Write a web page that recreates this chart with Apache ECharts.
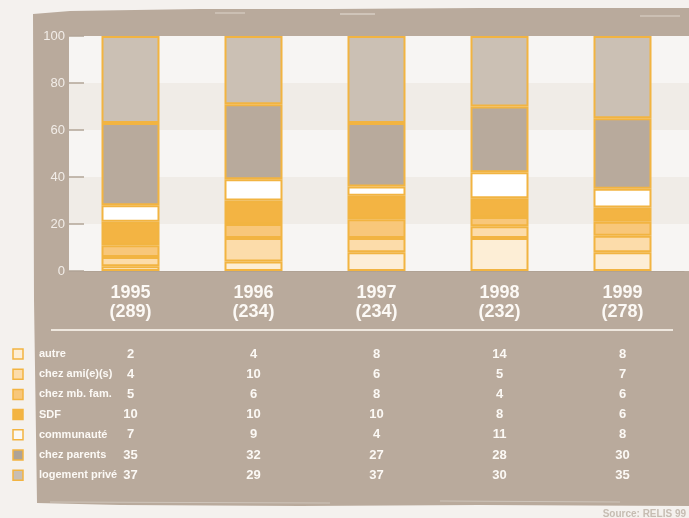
<!DOCTYPE html>
<html>
<head>
<meta charset="utf-8">
<script src="https://cdn.jsdelivr.net/npm/echarts@6/dist/echarts.min.js"></script>
<style>
  html, body { margin: 0; padding: 0; background: #f4f1ee; }
  #chart { width: 689px; height: 518px; }
</style>
</head>
<body>
<div id="chart"></div>
<script>
// donnees
var years = ['1995', '1996', '1997', '1998', '1999'];
var totals = [289, 234, 234, 232, 278];
var names = ['autre', 'chez ami(e)(s)', 'chez mb. fam.', 'SDF', 'communauté', 'chez parents', 'logement privé'];
var autre = [2, 4, 8, 14, 8];
var chezAmis = [4, 10, 6, 5, 7];
var chezFam = [5, 6, 8, 4, 6];
var sdf = [10, 10, 10, 8, 6];
var communaute = [7, 9, 4, 11, 8];
var chezParents = [35, 32, 27, 28, 30];
var logementPrive = [37, 29, 37, 30, 35];
var values = [autre, chezAmis, chezFam, sdf, communaute, chezParents, logementPrive];

var colors = ['#fdeed6', '#fcdcaa', '#f8c77a', '#f3b443', '#ffffff', '#b8aa9c', '#cbc0b4'];
var legendColors = ['#fdeed6', '#fcdcaa', '#f8c77a', '#f3b443', '#fbf8f4', '#aea396', '#c8beb3'];
var orange = '#f2b441';
var panel = '#b9aa9c';
var txt = '#fcf9f5';
var font = 'Liberation Sans, Arial, sans-serif';

var series = [];
for (var i = 0; i < names.length; i++) {
    series.push({
        name: names[i],
        type: 'bar',
        stack: 'total',
        xAxisIndex: 1,
        yAxisIndex: 1,
        barWidth: 58,
        data: values[i],
        itemStyle: { color: colors[i], borderColor: orange, borderWidth: 2 },
        emphasis: { disabled: true }
    });
}

var option = {
    backgroundColor: '#f4f1ee',
    animation: false,
    textStyle: { fontFamily: font },
    grid: [
        // fond a bandes jusqu'au bord droit
        { left: 69, right: 0, top: 36, bottom: 247 },
        { left: 69, right: 5, top: 36, bottom: 247 }
    ],
    xAxis: [
        { gridIndex: 0, type: 'value', min: 0, max: 1, show: true,
          axisLine: { show: false }, axisTick: { show: false },
          axisLabel: { show: false }, splitLine: { show: false } },
        { gridIndex: 1, type: 'category', data: years,
          axisLine: { lineStyle: { color: '#b0a294', width: 1 } },
          axisTick: { inside: true, length: 5, lineStyle: { color: '#b0a294' } },
          axisLabel: {
              margin: 13,
              formatter: function (v, idx) { return '{y|' + v + '}\n{y|(' + totals[idx] + ')}'; },
              rich: {
                  y: { color: txt, fontSize: 18, fontWeight: 'bold', fontFamily: font, lineHeight: 19 }
              }
          } }
    ],
    yAxis: [
        { gridIndex: 0, type: 'value', min: 0, max: 100, interval: 20,
          axisLine: { show: false }, axisTick: { show: false },
          axisLabel: { show: false }, splitLine: { show: false },
          splitArea: { show: true, areaStyle: { color: ['#f7f5f3', '#f0ece7'] } } },
        { gridIndex: 1, type: 'value', min: 0, max: 100, interval: 20, z: 5,
          axisLine: { show: false },
          axisTick: { show: true, inside: true, length: 15, lineStyle: { color: '#b3a598', width: 1.5 } },
          axisLabel: { color: '#f2ede8', fontSize: 13, margin: 4 },
          splitLine: { show: false } }
    ],
    graphic: [
        { type: 'polygon', z: -10, silent: true,
          shape: { points: [[33, 14], [70, 11], [200, 9], [330, 9], [480, 8], [689, 8], [689, 506],
                            [480, 505], [300, 506], [120, 505], [37, 503], [34, 300]] },
          style: { fill: panel } },
        // traits de pinceau
        { type: 'line', z: -9, silent: true, shape: { x1: 215, y1: 13, x2: 245, y2: 13 },
          style: { stroke: '#ddd4ca', lineWidth: 1 } },
        { type: 'line', z: -9, silent: true, shape: { x1: 340, y1: 14, x2: 375, y2: 14 },
          style: { stroke: '#e6dfd7', lineWidth: 1 } },
        { type: 'line', z: -9, silent: true, shape: { x1: 640, y1: 16, x2: 680, y2: 16 },
          style: { stroke: '#ddd4ca', lineWidth: 1 } },
        { type: 'line', z: -9, silent: true, shape: { x1: 50, y1: 502, x2: 330, y2: 503 },
          style: { stroke: '#cfc5bb', lineWidth: 1 } },
        { type: 'line', z: -9, silent: true, shape: { x1: 440, y1: 501, x2: 620, y2: 502 },
          style: { stroke: '#cfc5bb', lineWidth: 1 } }
    ],
    series: series
};

var chart = echarts.init(document.getElementById('chart'));
chart.setOption(option);

// tableau sous le graphique
var extra = [];
extra.push({ type: 'line', silent: true,
    shape: { x1: 51, y1: 330, x2: 673, y2: 330 },
    style: { stroke: '#eee7de', lineWidth: 2 } });
var rowY0 = 354, rowStep = 20.2;
for (var r = 0; r < names.length; r++) {
    var y = rowY0 + r * rowStep;
    extra.push({ type: 'rect', silent: true,
        shape: { x: 13, y: y - 5, width: 10, height: 10 },
        style: { fill: legendColors[r], stroke: orange, lineWidth: 1.5 } });
    extra.push({ type: 'text', silent: true, x: 39, y: y,
        style: { text: names[r], fill: txt, font: 'bold 11px ' + font,
                 verticalAlign: 'middle' } });
    for (var c = 0; c < years.length; c++) {
        var px = chart.convertToPixel({ xAxisIndex: 1 }, years[c]);
        extra.push({ type: 'text', silent: true, x: px, y: y,
            style: { text: String(values[r][c]), fill: txt, align: 'center', verticalAlign: 'middle',
                     font: 'bold 13px ' + font } });
    }
}
extra.push({ type: 'text', silent: true, x: 686, y: 514,
    style: { text: 'Source: RELIS 99', fill: '#c6bcb2', align: 'right', verticalAlign: 'middle',
             font: 'bold 10px ' + font } });

option.graphic = option.graphic.concat(extra);
chart.setOption({ graphic: option.graphic });
</script>
</body>
</html>
